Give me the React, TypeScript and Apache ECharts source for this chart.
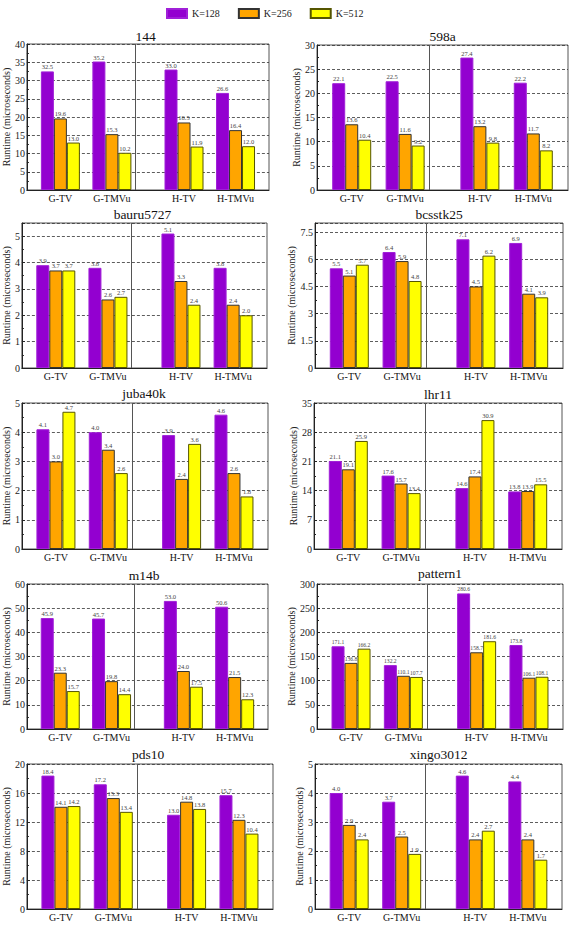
import React, { useEffect, useRef } from 'react';
import * as echarts from 'echarts';

const legendNames = ['K=128', 'K=256', 'K=512'];
const categories = ['G-TV', 'G-TMVu', 'H-TV', 'H-TMVu'];
const categoryPositions = [0.65, 1.65, 3.05, 4.05];
const separatorPosition = 2.35;
const xMax = 4.7;

const titles = ['144', '598a', 'bauru5727', 'bcsstk25', 'juba40k', 'lhr11', 'm14b', 'pattern1', 'pds10', 'xingo3012'];
const yMax = [40, 30, 5.5, 8, 5, 35, 60, 300, 20, 5];
const yInterval = [5, 5, 1, 1.5, 1, 7, 10, 50, 4, 1];

const k128 = [
  [32.5, 35.2, 33.0, 26.6],
  [22.1, 22.5, 27.4, 22.2],
  [3.9, 3.8, 5.1, 3.8],
  [5.5, 6.4, 7.1, 6.9],
  [4.1, 4.0, 3.9, 4.6],
  [21.1, 17.6, 14.6, 13.8],
  [45.9, 45.7, 53.0, 50.6],
  [171.1, 132.2, 280.6, 173.8],
  [18.4, 17.2, 13.0, 15.7],
  [4.0, 3.7, 4.6, 4.4],
];
const k256 = [
  [19.6, 15.3, 18.5, 16.4],
  [13.6, 11.6, 13.2, 11.7],
  [3.7, 2.6, 3.3, 2.4],
  [5.1, 5.9, 4.5, 4.1],
  [3.0, 3.4, 2.4, 2.6],
  [19.1, 15.7, 17.4, 13.9],
  [23.3, 19.8, 24.0, 21.5],
  [136.8, 110.1, 158.7, 106.1],
  [14.1, 15.3, 14.8, 12.3],
  [2.9, 2.5, 2.4, 2.4],
];
const k512 = [
  [13.0, 10.2, 11.9, 12.0],
  [10.4, 9.2, 9.8, 8.2],
  [3.7, 2.7, 2.4, 2.0],
  [5.7, 4.8, 6.2, 3.9],
  [4.7, 2.6, 3.6, 1.8],
  [25.9, 13.4, 30.9, 15.5],
  [15.7, 14.4, 17.5, 12.3],
  [166.2, 107.7, 181.6, 108.1],
  [14.2, 13.4, 13.8, 10.4],
  [2.4, 1.9, 2.7, 1.7],
];

// layout: [left, top, right, bottom] in px
const gridBoxes = [
  [22, 44, 269, 190],
  [317, 45, 568, 190],
  [18, 223, 267, 368],
  [315, 223, 563, 368],
  [20, 403, 268, 549],
  [314, 403, 562, 549],
  [20, 584, 268, 729],
  [317, 584, 563, 729],
  [23, 764, 273, 909],
  [315, 764, 562, 909],
];
const titleY = [37.5, 37.5, 215, 215, 394, 395, 576, 574, 755, 755];
const nameGaps = [13, 15, 10, 15, 10, 14, 13, 17, 13, 11];
const valueLabelSizes = [6.5, 6.5, 6.5, 6.5, 6.5, 6.5, 6.5, 5.6, 6.5, 6.5];

const FONT = "'Liberation Serif', 'DejaVu Serif', serif";
const colors = ['#9300D0', '#FFA500', '#FFFF00'];
const borders = ['#A020D8', '#333333', '#555500'];

export default function App() {
  const ref = useRef<HTMLDivElement>(null);
  useEffect(() => {
    if (!ref.current) return;
    const chart = echarts.init(ref.current, undefined, { renderer: 'svg' });
    const seriesData = [k128, k256, k512];

    const grid = gridBoxes.map(([l, t, r, b]) => ({
      left: l,
      top: t,
      width: r - l,
      height: b - t,
      show: true,
      borderColor: '#555',
      borderWidth: 1,
      backgroundColor: 'transparent',
    }));

    const xAxis = gridBoxes.map((_, i) => ({
      type: 'value',
      gridIndex: i,
      min: 0,
      max: xMax,
      axisLine: { show: true, onZero: false, lineStyle: { color: '#222', width: 1 } },
      axisTick: { show: false },
      splitLine: { show: false },
      axisLabel: {
        customValues: categoryPositions,
        formatter: (v: number) => {
          let best = 0;
          categoryPositions.forEach((p, j) => {
            if (Math.abs(p - v) < Math.abs(categoryPositions[best] - v)) best = j;
          });
          return categories[best];
        },
        fontSize: 10,
        fontFamily: FONT,
        color: '#111',
        margin: 3,
      },
    }));

    const yAxis = gridBoxes.map((_, i) => ({
      type: 'value',
      gridIndex: i,
      min: 0,
      max: yMax[i],
      interval: yInterval[i],
      name: 'Runtime (microseconds)',
      nameLocation: 'middle',
      nameGap: nameGaps[i],
      nameTextStyle: { fontSize: 10, fontFamily: FONT, color: '#222' },
      axisLine: { show: true, lineStyle: { color: '#222', width: 1 } },
      axisTick: { show: true, inside: true, length: 3, lineStyle: { color: '#222' } },
      minorTick: { show: true, splitNumber: 2, length: 2, lineStyle: { color: '#222' } },
      splitLine: { show: true, lineStyle: { color: '#333', type: [3, 2], width: 0.8 } },
      axisLabel: {
        fontSize: 10,
        fontFamily: FONT,
        color: '#222',
        margin: 2,
        showMaxLabel: yMax[i] % yInterval[i] === 0,
      },
    }));

    const series: any[] = [];
    gridBoxes.forEach((_, i) => {
      for (let k = 0; k < 3; k++) {
        series.push({
          type: 'bar',
          name: legendNames[k],
          xAxisIndex: i,
          yAxisIndex: i,
          barWidth: 13,
          barGap: '0%',
          data: categoryPositions.map((x, j) => [x, seriesData[k][i][j]]),
          itemStyle: { color: colors[k], borderColor: borders[k], borderWidth: 1 },
          label: {
            show: true,
            position: 'top',
            distance: 1,
            fontSize: valueLabelSizes[i],
            fontFamily: FONT,
            color: '#444',
            formatter: (p: any) => Number(p.value[1]).toFixed(1),
          },
          markLine:
            k === 0
              ? {
                  silent: true,
                  symbol: ['none', 'none'],
                  label: { show: false },
                  lineStyle: { color: '#555', type: 'solid', width: 1 },
                  data: [{ xAxis: separatorPosition }],
                }
              : undefined,
        });
      }
    });

    const title = titles.map((t, i) => {
      const [l, , r] = gridBoxes[i];
      return {
        text: t,
        left: (l + r) / 2,
        top: titleY[i] - 8,
        textAlign: 'center',
        padding: 0,
        textStyle: { fontSize: 13.5, fontFamily: FONT, color: '#111', fontWeight: 'normal' },
      };
    });

    chart.setOption({
      animation: false,
      backgroundColor: '#fff',
      title,
      legend: {
        data: legendNames,
        left: 161,
        top: 3,
        itemWidth: 20,
        itemHeight: 9,
        itemGap: 18,
        icon: 'rect',
        selectedMode: false,
        textStyle: { fontSize: 10, fontFamily: FONT, color: '#222' },
      },
      grid,
      xAxis,
      yAxis,
      series,
    });
    return () => chart.dispose();
  }, []);
  return (
    <div
      ref={ref}
      style={{ position: 'absolute', left: 0, top: 0, width: 573, height: 937 }}
    />
  );
}
